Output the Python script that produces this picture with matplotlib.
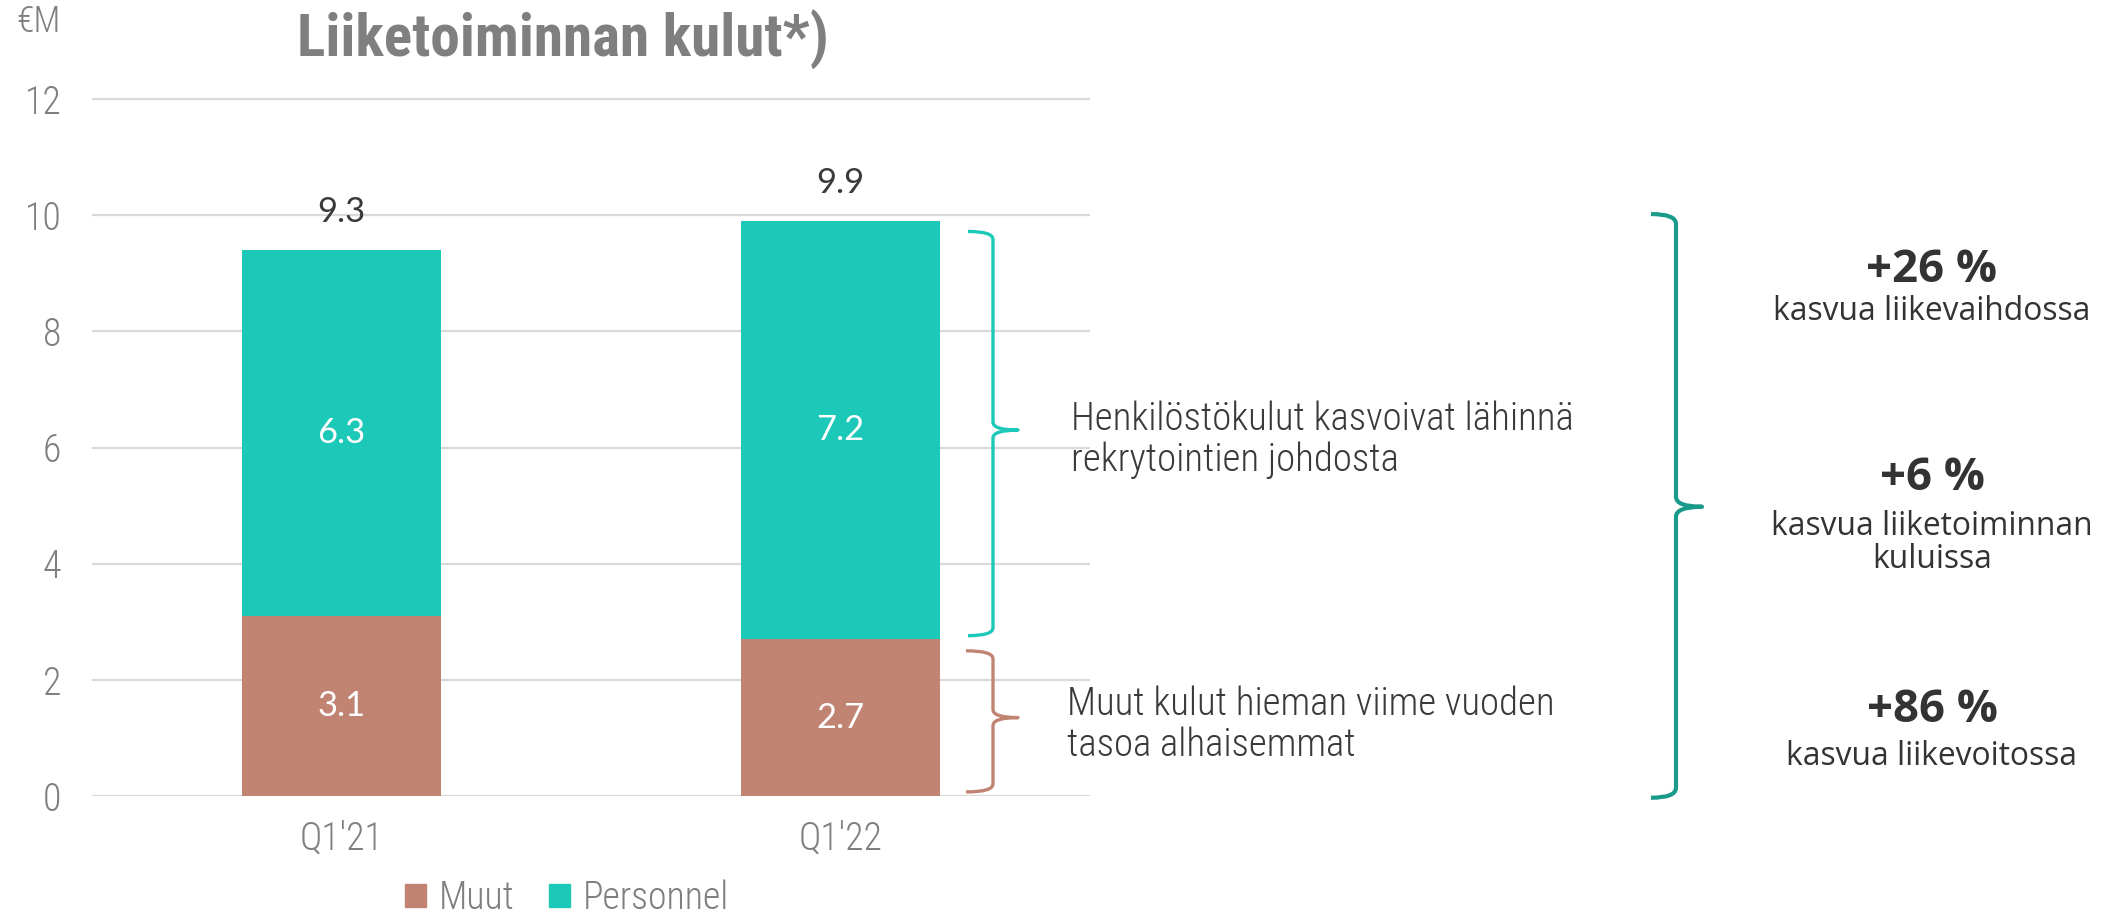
import numpy as np
import matplotlib
matplotlib.use("Agg")
import matplotlib.pyplot as plt
from matplotlib import font_manager as fm
from matplotlib.path import Path
from matplotlib.patches import PathPatch, Patch
from matplotlib.transforms import Affine2D

# ---------------- data ----------------
categories = ["Q1'21", "Q1'22"]
muut = [3.1, 2.7]
personnel = [6.3, 7.2]
total_labels = [9.3, 9.9]
yticks = [0, 2, 4, 6, 8, 10, 12]
series_names = ["Muut", "Personnel"]

title = "Liiketoiminnan kulut*)"
unit = "€M"
note_personnel = "Henkilöstökulut kasvoivat lähinnä\nrekrytointien johdosta"
note_muut = "Muut kulut hieman viime vuoden\ntasoa alhaisemmat"
kpi_values = ["+26 %", "+6 %", "+86 %"]
kpi_texts = ["kasvua liikevaihdossa", "kasvua liiketoiminnan\nkuluissa", "kasvua liikevoitossa"]

# ---------------- fonts ----------------
_names = {f.name for f in fm.fontManager.ttflist}


def pick(*cands):
    for c in cands:
        if c in _names:
            return c
    return "DejaVu Sans"


COND = pick("Roboto Condensed", "PT Sans Narrow", "Fira Sans Condensed", "IBM Plex Sans Condensed",
            "Barlow Semi Condensed")
GEO = pick("Lato", "Open Sans", "Noto Sans")
KPI = pick("Open Sans", "Lato", "Noto Sans")
CK = dict(family=COND, fontstretch="condensed")

# ---------------- style ----------------
C_MUUT = "#C18472"
C_PERS = "#1CC8B8"
C_BRACE = "#1A9A8B"
C_GRID = "#D9D9D9"
C_GREY = "#7F7F7F"
C_DARK = "#3A3A3A"

W, H = 2113, 913
fig = plt.figure(figsize=(W / 100, H / 100), dpi=100)
renderer = fig.canvas.get_renderer()
ax = fig.add_axes([92 / W, 117 / H, 998 / W, 12.3 * 58.08 / H])


def fit(t, target_w):
    w = t.get_window_extent(renderer).width
    t.set_fontsize(t.get_fontsize() * target_w / w)
    return t


def fitted_size(s, target_w, **kw):
    p = fig.text(0, 0, s, fontsize=20, **kw)
    fit(p, target_w)
    size = p.get_fontsize()
    p.remove()
    return size


x = np.arange(len(categories))
bw = 0.4
ax.bar(x, muut, bw, color=C_MUUT, label=series_names[0], zorder=3)
ax.bar(x, personnel, bw, bottom=muut, color=C_PERS, label=series_names[1], zorder=3)

ax.set_xlim(-0.5, 1.5)
ax.set_ylim(0, 12.3)
ax.set_yticks(yticks)
ax.set_xticks(x)
ax.set_xticklabels(categories)
ax.grid(axis="y", color=C_GRID, lw=1.6, zorder=0)
ax.set_axisbelow(True)
for s in ax.spines.values():
    s.set_visible(False)

tick_size = fitted_size("Q1'21", 84, fontweight="light", **CK)
ax.tick_params(axis="y", length=0, pad=22, labelsize=tick_size, labelcolor=C_GREY)
ax.tick_params(axis="x", length=0, pad=17, labelsize=tick_size, labelcolor=C_GREY)
for lab in ax.get_yticklabels() + ax.get_xticklabels():
    lab.set_fontfamily(COND)
    lab.set_fontstretch("condensed")
    lab.set_fontweight("light")

# segment labels
val_size = fitted_size("9.3", 48, family=GEO)
for xi, m, p, t in zip(x, muut, personnel, total_labels):
    ax.text(xi, m / 2, f"{m:.1f}", ha="center", va="center", color="white",
            fontsize=val_size, family=GEO)
    ax.text(xi, m + p / 2, f"{p:.1f}", ha="center", va="center", color="white",
            fontsize=val_size, family=GEO)
    ax.text(xi, m + p + 0.65, f"{t:.1f}", ha="center", va="center", color=C_DARK,
            fontsize=val_size, family=GEO)

# title and unit
tt = fig.text(563 / W, 1 - 40 / H, title, ha="center", va="center", fontsize=40,
              fontweight="bold", color=C_GREY, **CK)
fit(tt, 531)
fig.text(16 / W, 1 - 22 / H, unit, ha="left", va="center", fontsize=tick_size * 0.95,
         fontweight="light", color=C_GREY, **CK)

# legend
handles = [Patch(color=C_MUUT, label=series_names[0]), Patch(color=C_PERS, label=series_names[1])]
leg = fig.legend(handles=handles, loc="center", bbox_to_anchor=(567 / W, 1 - 898 / H),
                 ncol=2, frameon=False, handlelength=0.55, handleheight=0.55,
                 handletextpad=0.35, columnspacing=0.9, borderpad=0.0, borderaxespad=0.0,
                 prop={"family": COND, "stretch": "condensed", "weight": "light", "size": tick_size})
for t in leg.get_texts():
    t.set_color(C_GREY)


def data_to_px_y(v):
    disp = ax.transData.transform((0, v))[1]
    return H - disp * (H / fig.bbox.height)


pxtr = Affine2D().scale(1 / W, -1 / H).translate(0, 1) + fig.transFigure


def brace(x_end, x_v, x_tip, y_top, y_tip, y_bot, color, lw, r=8):
    verts = [
        (x_end, y_top), (x_v, y_top), (x_v, y_top + r),
        (x_v, y_tip - r), (x_v, y_tip), (x_tip, y_tip),
        (x_v, y_tip), (x_v, y_tip + r),
        (x_v, y_bot - r), (x_v, y_bot), (x_end, y_bot),
    ]
    codes = [Path.MOVETO, Path.CURVE3, Path.CURVE3,
             Path.LINETO, Path.CURVE3, Path.CURVE3,
             Path.CURVE3, Path.CURVE3,
             Path.LINETO, Path.CURVE3, Path.CURVE3]
    patch = PathPatch(Path(verts, codes), fill=False, edgecolor=color, lw=lw,
                      transform=pxtr, capstyle="butt", joinstyle="round")
    fig.add_artist(patch)


# personnel brace (Q1'22 personnel segment)
top2 = muut[1] + personnel[1]
brace(968, 993, 1018, data_to_px_y(top2 - 0.18), data_to_px_y(muut[1] + personnel[1] / 2),
      data_to_px_y(muut[1] + 0.06), C_PERS, 2.4)
# muut brace
brace(966, 993, 1018, data_to_px_y(muut[1] - 0.2), data_to_px_y(muut[1] / 2),
      data_to_px_y(0.07), C_MUUT, 2.4)
# big brace
brace(1651, 1676, 1702, data_to_px_y(10.02), data_to_px_y(4.98), data_to_px_y(-0.03),
      C_BRACE, 3.0, r=10)

# notes
n1 = fig.text(1071 / W, 1 - 440 / H, note_personnel, ha="left", va="center", fontsize=26,
              fontweight="light", color=C_DARK, linespacing=1.12, **CK)
fit(n1, 503)
n2 = fig.text(1067 / W, 1 - 725 / H, note_muut, ha="left", va="center", fontsize=n1.get_fontsize(),
              fontweight="light", color=C_DARK, linespacing=1.12, **CK)

# KPI texts
kpi_size = fitted_size(kpi_values[0], 131, family=KPI, fontweight="bold")
sub_size = fitted_size(kpi_texts[0], 316, family=KPI)
kpi_val_y = [270, 478, 710]
kpi_txt_y = [312, 543, 756]
for v, t, yv, yt in zip(kpi_values, kpi_texts, kpi_val_y, kpi_txt_y):
    fig.text(1932 / W, 1 - yv / H, v, ha="center", va="center", fontsize=kpi_size,
             fontweight="bold", family=KPI, color="#333333")
    fig.text(1932 / W, 1 - yt / H, t, ha="center", va="center", fontsize=sub_size,
             family=KPI, color="#333333", linespacing=1.0)

fig.savefig("out.png", dpi=100)
